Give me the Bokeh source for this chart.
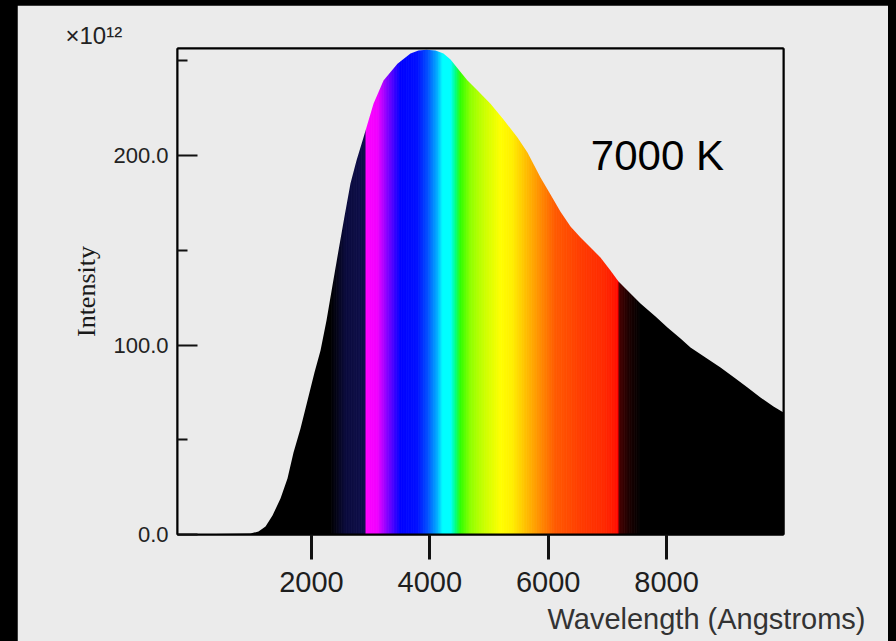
from bokeh.plotting import figure
from bokeh.models import (Range1d, FixedTicker, PrintfTickFormatter, Label, Spacer, ColumnDataSource,
                          Title, LinearAxis, GlobalInlineStyleSheet)
from bokeh.layouts import row, column
from bokeh.embed import file_html
from bokeh.resources import INLINE

# ---- data ----
wavelength = [-260, 971, 1106, 1225, 1343, 1478, 1596, 1698, 1816, 1934, 2052, 2154, 2255, 2356,
              2458, 2559, 2660, 2762, 2880, 3049, 3218, 3454, 3674, 3809, 3944, 4096, 4231, 4350,
              4485, 4637, 4823, 5025, 5245, 5481, 5650, 5870, 6039, 6208, 6377, 6546, 6715, 6883,
              7052, 7188, 7390, 7559, 7813, 8015, 8235, 8404, 8657, 8911, 9164, 9367, 9586, 9806, 9975]
intensity = [0, 0.5, 1.6, 4.2, 10.0, 19.0, 29.6, 43.3, 55.9, 70.7, 85.5, 97.1, 112.9, 131.4,
             149.9, 167.8, 185.2, 197.4, 209.5, 227.4, 239.6, 248.5, 253.8, 255.4, 255.9, 255.4, 253.8, 250.7,
             245.4, 239.6, 233.8, 227.4, 219.0, 209.5, 201.6, 188.4, 179.4, 170.4, 162.5, 156.7, 151.5, 146.2,
             139.3, 133.5, 127.2, 121.9, 115.0, 109.2, 103.4, 98.7, 93.4, 88.1, 82.3, 77.6, 72.3, 67.5, 64.4]

band_stops = [-260, 2323, 2576, 2914, 2914, 3117, 3285, 3505, 3792, 3961, 4130, 4215, 4350, 4435,
              4519, 4688, 4907, 5194, 5397, 5616, 5870, 6123, 6546, 6968, 7137, 7188, 7188, 7356, 7559, 9975]
band_colors = ["#000000", "#000000", "#0a0a3c", "#0e0e4c", "#ff00ff", "#f000ff", "#8000ff", "#0000ff",
               "#0010ff", "#0050ff", "#00b0ff", "#00ffff", "#00ffff", "#00ff80", "#30ff00", "#90ff00",
               "#c8ff00", "#ffff00", "#ffee00", "#ffc000", "#ff8c00", "#ff5a00", "#ff3c00", "#ff2800",
               "#ff1400", "#ff0000", "#4a0000", "#1e0000", "#000000", "#000000"]

x_ticks = [2000, 4000, 6000, 8000]
y_ticks = [0, 100, 200]
y_minor_ticks = [50, 150, 250]

BG = "#ebebeb"
X0, X1 = -262, 9975
Y0, Y1 = 0, 256.5


def hex2rgb(h):
    h = h.lstrip("#")
    return tuple(int(h[i:i + 2], 16) for i in (0, 2, 4))


def rgb2hex(c):
    return "#%02x%02x%02x" % tuple(int(round(v)) for v in c)


lefts, rights, cols = [], [], []
for i in range(len(band_stops) - 1):
    a0, a1 = band_stops[i], band_stops[i + 1]
    if a1 <= a0:
        continue
    c0, c1 = hex2rgb(band_colors[i]), hex2rgb(band_colors[i + 1])
    n = 1 if c0 == c1 else max(1, int(round((a1 - a0) / 12.0)))
    for k in range(n):
        a = a0 + (a1 - a0) * k / n
        b = a0 + (a1 - a0) * (k + 1) / n
        t = (k + 0.5) / n
        col = tuple(c0[j] + (c1[j] - c0[j]) * t for j in range(3))
        lefts.append(a)
        rights.append(b + 10)
        cols.append(rgb2hex(col))

strips = ColumnDataSource(dict(left=lefts, right=rights, color=cols))
curve = ColumnDataSource(dict(x=wavelength, y=intensity))

p = figure(width=871, height=636, x_range=Range1d(X0, X1), y_range=Range1d(Y0, Y1),
           output_backend="svg", toolbar_location=None,
           min_border_left=160, min_border_right=105, min_border_top=43, min_border_bottom=107,
           background_fill_color=BG, border_fill_color=BG)
p.grid.visible = False

p.quad(left="left", right="right", bottom=Y0, top=Y1 - 0.4, fill_color="color",
       line_color=None, source=strips)
p.varea(x="x", y1="y", y2=Y1 + 50, fill_color=BG, source=curve)

p.outline_line_color = "black"
p.outline_line_width = 2

xa = p.xaxis[0]
xa.ticker = FixedTicker(ticks=x_ticks, minor_ticks=[])
xa.major_tick_in = 0
xa.major_tick_out = 25
xa.major_tick_line_width = 3
xa.major_tick_line_color = "#111111"
xa.minor_tick_line_color = None
xa.axis_line_width = 2
xa.axis_line_color = "black"
xa.major_label_text_font = "Liberation Sans"
xa.major_label_text_font_size = "29px"
xa.major_label_text_color = "#1e1e1e"
xa.major_label_standoff = 12

ya = p.yaxis[0]
ya.ticker = FixedTicker(ticks=y_ticks, minor_ticks=y_minor_ticks)
ya.formatter = PrintfTickFormatter(format="%.1f")
ya.major_tick_in = 20
ya.major_tick_out = 0
ya.minor_tick_in = 10
ya.minor_tick_out = 0
ya.major_tick_line_width = 2
ya.minor_tick_line_width = 2
ya.major_tick_line_color = "#111111"
ya.minor_tick_line_color = "#111111"
ya.axis_line_width = 2
ya.axis_line_color = "black"
ya.major_label_text_font = "Liberation Sans"
ya.major_label_text_font_size = "22px"
ya.major_label_text_color = "#222222"
ya.major_label_standoff = 9
ya.axis_label = "Intensity"
ya.axis_label_text_font = "Liberation Serif"
ya.axis_label_text_font_style = "normal"
ya.axis_label_text_font_size = "26px"
ya.axis_label_text_color = "#1a1a1a"
ya.axis_label_standoff = 9

# plain frame lines on top and right (drawn above the glyphs)
for side in ("above", "right"):
    ax = LinearAxis(ticker=FixedTicker(ticks=[], minor_ticks=[]), axis_line_width=2,
                    axis_line_color="black", major_tick_in=0, major_tick_out=0,
                    minor_tick_in=0, minor_tick_out=0, major_label_standoff=0)
    p.add_layout(ax, side)

p.add_layout(Title(text="×10¹²", align="left", offset=-112, standoff=0,
                   text_font="Liberation Sans", text_font_size="24px", text_font_style="normal",
                   text_color="#222222"), "above")
p.add_layout(Title(text="Wavelength (Angstroms)", align="right", offset=-82, standoff=12,
                   text_font="Liberation Sans", text_font_size="29px", text_font_style="normal",
                   text_color="#333333"), "below")

p.add_layout(Label(x=6720, y=200, text="7000 K", text_font="Liberation Sans",
                   text_font_size="42px", text_color="black", text_baseline="alphabetic"))

top_pad = Spacer(width=888, height=5, styles={"background-color": "black"})
left_pad = Spacer(width=17, height=636, styles={"background-color": "black"})
layout = column(top_pad, row(left_pad, p))
layout.stylesheets = [GlobalInlineStyleSheet(
    css="html, body { margin: 0; padding: 0; background: #000; overflow: hidden; }")]

open("out.html", "w").write(file_html(layout, INLINE))
